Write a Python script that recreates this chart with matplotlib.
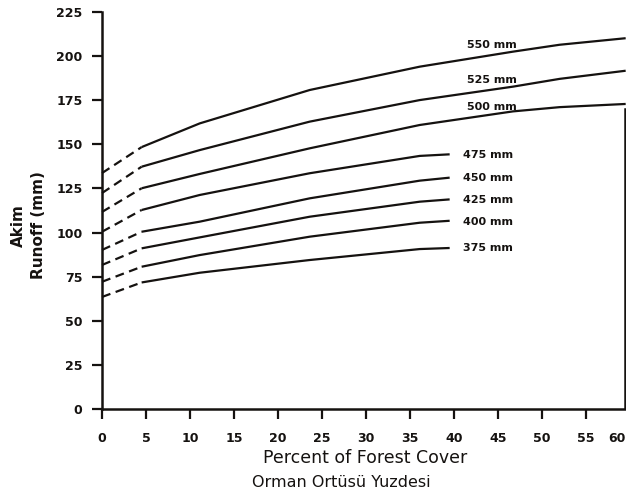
import numpy as np
import matplotlib.pyplot as plt

# x positions (percent forest cover) where values were read
dash_x = [0, 4.5]
upper_x = [4.5, 11.1, 23.6, 36.1, 46.7, 52, 59.5]
lower_x = [4.5, 11.1, 23.6, 36.1, 39.5]

# runoff (mm) per annual precipitation curve
p550_dash = [133.7, 148.4]
p550 = [148.4, 161.8, 180.7, 193.9, 202.4, 206.3, 210.0]
p525_dash = [122.4, 137.3]
p525 = [137.3, 146.7, 162.8, 175.0, 182.6, 187.0, 191.6]
p500_dash = [111.7, 125.1]
p500 = [125.1, 133.2, 147.7, 160.9, 168.6, 171.0, 172.8]
p475_dash = [100.5, 112.8]
p475 = [112.8, 121.3, 133.6, 143.4, 144.3]
p450_dash = [90.2, 100.5]
p450 = [100.5, 106.2, 119.4, 129.4, 131.1]
p425_dash = [81.7, 91.1]
p425 = [91.1, 97.3, 109.0, 117.5, 118.8]
p400_dash = [72.2, 80.7]
p400 = [80.7, 87.3, 97.7, 105.6, 106.7]
p375_dash = [63.6, 71.8]
p375 = [71.8, 77.3, 84.5, 90.7, 91.3]

labels = ["550 mm", "525 mm", "500 mm", "475 mm", "450 mm", "425 mm", "400 mm", "375 mm"]
label_x = [41.5, 41.5, 41.5, 41, 41, 41, 41, 41]
label_y = [206.2, 186.4, 171.3, 143.9, 130.7, 118.5, 106.2, 91.1]

xticks = list(range(0, 65, 5))
xtick_labels = [str(v) for v in xticks]
yticks = list(range(0, 250, 25))

ink = "#151210"

fig = plt.figure(figsize=(6.26, 4.98), dpi=100)
ax = fig.add_axes([0.163, 0.178, 0.8435, 0.7985])

curves = [
    (upper_x, p550_dash, p550),
    (upper_x, p525_dash, p525),
    (upper_x, p500_dash, p500),
    (lower_x, p475_dash, p475),
    (lower_x, p450_dash, p450),
    (lower_x, p425_dash, p425),
    (lower_x, p400_dash, p400),
    (lower_x, p375_dash, p375),
]
for xs, dash_vals, vals in curves:
    ax.plot(dash_x, dash_vals, color=ink, lw=1.6, dashes=(4, 2.5), clip_on=False)
    ax.plot(xs, vals, color=ink, lw=1.6, solid_capstyle="butt")

for txt, lx, ly in zip(labels, label_x, label_y):
    ax.text(lx, ly, txt, fontsize=8, fontweight="bold", color=ink,
            ha="left", va="center")

# frame edge visible at the right of the scan
ax.plot([59.4, 59.4], [0, 170], color=ink, lw=1.8)

ax.set_xlim(0, 60)
ax.set_ylim(0, 225)
ax.set_xticks(xticks)
# the last label falls at the picture edge, so it is placed by hand below
ax.set_xticklabels(xtick_labels[:-1] + [""])
ax.set_yticks(yticks)
ax.tick_params(axis="both", direction="out", length=7, width=1.6, colors=ink,
               labelsize=9)
ax.tick_params(axis="x", pad=9)
ax.tick_params(axis="y", pad=7)
for lab in ax.get_xticklabels() + ax.get_yticklabels():
    lab.set_fontweight("bold")
ax.annotate(xtick_labels[-1], xy=(xticks[-1], 0), xycoords=("data", "axes fraction"),
            xytext=(-3, -16), textcoords="offset points", ha="right", va="top",
            fontsize=9, fontweight="bold", color=ink)

for side in ["top", "right"]:
    ax.spines[side].set_visible(False)
for side in ["left", "bottom"]:
    ax.spines[side].set_linewidth(1.8)
    ax.spines[side].set_color(ink)

fig.text(0.029, 0.548, "Akim", rotation=90, fontsize=11, fontweight="bold",
         color=ink, ha="center", va="center")
fig.text(0.061, 0.548, "Runoff (mm)", rotation=90, fontsize=11, fontweight="bold",
         color=ink, ha="center", va="center")
fig.text(365 / 626, 1 - 458 / 498, "Percent of Forest Cover", fontsize=12.5,
         color=ink, ha="center", va="center")
fig.text(341 / 626, 1 - 482 / 498, "Orman Ortüsü Yuzdesi", fontsize=11.5,
         color=ink, ha="center", va="center")

fig.savefig("out.png", dpi=100)
